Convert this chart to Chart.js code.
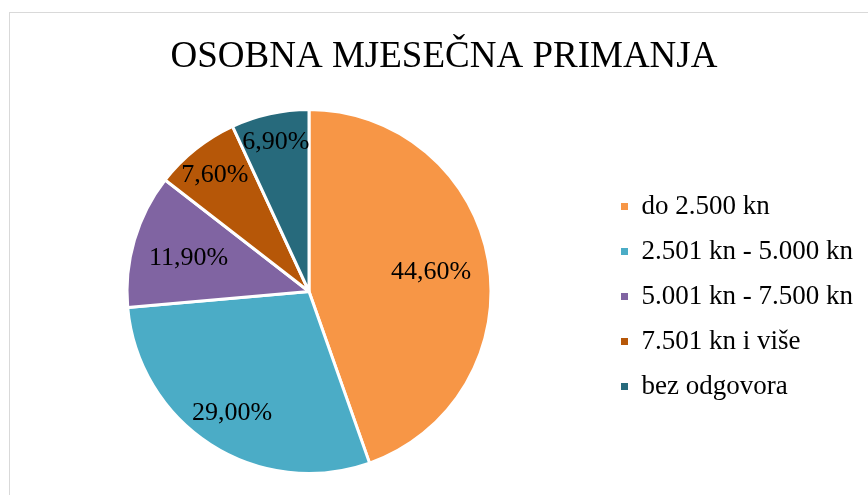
<!DOCTYPE html>
<html>
<head>
<meta charset="utf-8">
<script src="https://cdn.jsdelivr.net/npm/chart.js@4/dist/chart.umd.min.js"></script>
<style>
  html, body { margin: 0; padding: 0; background: #fff; overflow: hidden; width: 868px; height: 495px; }
  #box { position: absolute; left: 9px; top: 12px; width: 868px; height: 490px; border: 1px solid #d9d9d9; background: #fff; }
  #c { display: block; }
</style>
</head>
<body>
<div id="box"><canvas id="c" width="868" height="490"></canvas></div>
<script>
const categories = ['do 2.500 kn', '2.501 kn - 5.000 kn', '5.001 kn - 7.500 kn', '7.501 kn i više', 'bez odgovora'];
const values = [44.6, 29.0, 11.9, 7.6, 6.9];
const colors = ['#F79646', '#4BACC6', '#8064A2', '#B65708', '#276A7C'];
const titleText = 'OSOBNA MJESEČNA PRIMANJA';

const labelRadius = [0.68, 0.78, 0.69, 0.83, 0.85];
const serif = "'Liberation Serif', 'Times New Roman', serif";

const pieLabels = {
  id: 'pieLabels',
  afterDatasetsDraw(chart) {
    const ctx = chart.ctx;
    const meta = chart.getDatasetMeta(0);
    ctx.save();
    ctx.font = '26px ' + serif;
    ctx.fillStyle = '#000';
    ctx.textAlign = 'center';
    ctx.textBaseline = 'middle';
    meta.data.forEach((arc, i) => {
      const p = arc.getProps(['x', 'y', 'startAngle', 'endAngle', 'outerRadius'], true);
      const mid = (p.startAngle + p.endAngle) / 2;
      const r = p.outerRadius * labelRadius[i];
      const x = p.x + Math.cos(mid) * r;
      const y = p.y + Math.sin(mid) * r + 2;
      const txt = values[i].toFixed(2).replace('.', ',') + '%';
      ctx.fillText(txt, x, y);
    });
    ctx.restore();
  }
};

const layoutNudge = {
  id: 'layoutNudge',
  afterLayout(chart) {
    const lg = chart.legend;
    if (lg) { lg.top += 5; lg.bottom += 5; lg.left -= 2; lg.right -= 2; }
    const tb = chart.titleBlock;
    if (tb) { tb.left += 5; tb.right += 5; }
  }
};

new Chart(document.getElementById('c'), {
  type: 'pie',
  data: {
    labels: categories,
    datasets: [{
      data: values,
      backgroundColor: colors,
      borderColor: '#ffffff',
      borderWidth: 3
    }]
  },
  options: {
    responsive: false,
    animation: false,
    layout: { padding: { left: 3, right: 13, top: 0, bottom: 28 } },
    plugins: {
      title: {
        display: true,
        text: titleText,
        color: '#000',
        font: { family: serif, size: 37, weight: 'normal' },
        padding: { top: 22, bottom: 28.6 }
      },
      legend: {
        position: 'right',
        fullSize: false,
        labels: {
          color: '#000',
          font: { family: serif, size: 27 },
          boxWidth: 7,
          boxHeight: 7,
          padding: 18,
          generateLabels(chart) {
            const items = Chart.overrides.pie.plugins.legend.labels.generateLabels(chart);
            return items.map(it => Object.assign(it, { lineWidth: 0, strokeStyle: it.fillStyle }));
          }
        }
      },
      tooltip: { enabled: false }
    }
  },
  plugins: [pieLabels, layoutNudge]
});
</script>
</body>
</html>
